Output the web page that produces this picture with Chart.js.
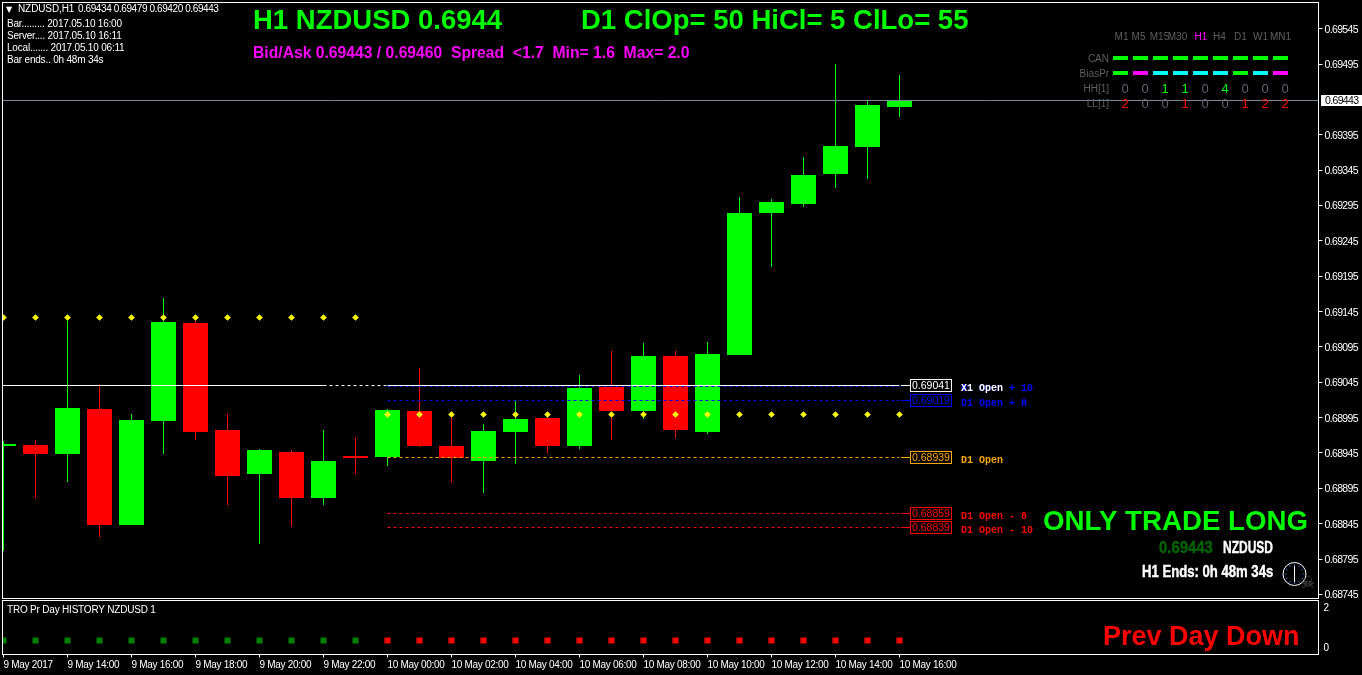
<!DOCTYPE html>
<html>
<head>
<meta charset="utf-8">
<title>NZDUSD H1</title>
<style>
html,body{margin:0;padding:0;background:#000;overflow:hidden;}
#wrap{position:relative;width:1362px;height:675px;background:#000;}
canvas{position:absolute;left:0;display:block;}
#main{top:0;}
#sub{top:600px;}
</style>
<script src="https://cdn.jsdelivr.net/npm/chart.js@4/dist/chart.umd.min.js"></script>
</head>
<body>
<div id="wrap">
<canvas id="main" width="1362" height="600"></canvas>
<canvas id="sub" width="1362" height="75"></canvas>
</div>
<script>
// hourly candles, 9 May 12:00 -> 10 May 16:00
var opens  = [0.68955,0.68957,0.68943,0.69007,0.68843,0.68990,0.69129,0.68977,0.68916,0.68947,0.68881,0.68941,0.68939,0.69005,0.68955,0.68933,0.68974,0.68994,0.68955,0.69038,0.69004,0.69082,0.68974,0.69083,0.69284,0.69297,0.69340,0.69378,0.69434];
var highs  = [0.68962,0.68964,0.69134,0.69042,0.69000,0.69164,0.69136,0.69000,0.68950,0.68949,0.68977,0.68967,0.69007,0.69065,0.69004,0.68986,0.69018,0.69003,0.69055,0.69089,0.69100,0.69089,0.69102,0.69307,0.69304,0.69364,0.69495,0.69443,0.69479];
var lows   = [0.68807,0.68881,0.68904,0.68826,0.68843,0.68943,0.68964,0.68872,0.68816,0.68841,0.68872,0.68916,0.68926,0.68953,0.68902,0.68888,0.68930,0.68945,0.68950,0.68964,0.68993,0.68966,0.68972,0.69083,0.69208,0.69293,0.69320,0.69333,0.69420];
var closes = [0.68958,0.68943,0.69008,0.68843,0.68991,0.69130,0.68974,0.68913,0.68949,0.68882,0.68933,0.68938,0.69006,0.68955,0.68938,0.68976,0.68993,0.68955,0.69037,0.69004,0.69082,0.68977,0.69085,0.69284,0.69300,0.69338,0.69379,0.69437,0.69443];

var yTicks = [0.69545,0.69495,0.69395,0.69345,0.69295,0.69245,0.69195,0.69145,0.69095,0.69045,0.68995,0.68945,0.68895,0.68845,0.68795,0.68745];
var xLabels = ["9 May 2017","9 May 14:00","9 May 16:00","9 May 18:00","9 May 20:00","9 May 22:00","10 May 00:00","10 May 02:00","10 May 04:00","10 May 06:00","10 May 08:00","10 May 10:00","10 May 12:00","10 May 14:00","10 May 16:00"];

var bidPrice = 0.69443;
var pivotY = [0.69136,0.69136,0.69136,0.69136,0.69136,0.69136,0.69136,0.69136,0.69136,0.69136,0.69136,0.69136,0.68999,0.68999,0.68999,0.68999,0.68999,0.68999,0.68999,0.68999,0.68999,0.68999,0.68999,0.68999,0.68999,0.68999,0.68999,0.68999,0.68999];
var prevDay = [0.35,0.35,0.35,0.35,0.35,0.35,0.35,0.35,0.35,0.35,0.35,0.35,0.35,0.35,0.35,0.35,0.35,0.35,0.35,0.35,0.35,0.35,0.35,0.35,0.35,0.35,0.35,0.35,0.35];
var prevDayUp = [1,1,1,1,1,1,1,1,1,1,1,1,0,0,0,0,0,0,0,0,0,0,0,0,0,0,0,0,0];

var levelPrices = [0.69041,0.69019,0.68939,0.68859,0.68839];
var levelNames = ["D1 Open + 10","D1 Open + 8","D1 Open","D1 Open - 8","D1 Open - 10"];
var levelColors = ["#0000ff","#0000ff","#ffa500","#ff0000","#ff0000"];

var frames = ["M1","M5","M15","M30","H1","H4","D1","W1","MN1"];
var canRow = ["#00ff00","#00ff00","#00ff00","#00ff00","#00ff00","#00ff00","#00ff00","#00ff00","#00ff00"];
var biasRow = ["#00ff00","#ff00ff","#00ffff","#00ffff","#00ffff","#00ffff","#00ff00","#00ffff","#ff00ff"];
var hhRow = [0,0,1,1,0,4,0,0,0];
var llRow = [2,0,0,1,0,0,1,2,2];

var FRAME = "#ffffff";
var sans = '"Liberation Sans",Arial,sans-serif';
var small = '10px ' + sans;
var arialB = 'bold 27.5px ' + sans;
var mono = 'bold 10px "Liberation Mono",monospace';
var fatB = 'bold 16px ' + sans;

// index -> pixel is 3.5 + 32*i, so the window edges sit at 2.5 and 1318.5
var xMin = -1/32, xMax = 1315/32;

function txt(ctx, s, x, y, font, color, align, spacing){
    ctx.font = font;
    ctx.fillStyle = color;
    ctx.textAlign = align || "left";
    ctx.textBaseline = "middle";
    ctx.letterSpacing = spacing || "0px";
    ctx.fillText(s, x, y);
    ctx.letterSpacing = "0px";
}

// same, squeezed sideways and a bit heavier (the original uses a condensed face)
function squeezed(ctx, s, x, y, font, color, sx){
    ctx.save();
    ctx.translate(x, y);
    ctx.scale(sx, 1);
    txt(ctx, s, 0, 0, font, color);
    ctx.strokeStyle = color;
    ctx.lineWidth = 0.4;
    ctx.strokeText(s, 0, 0);
    ctx.restore();
}

function seg(x0, x1, y, color, dash, order){
    return {
        type:"line",
        data:[{x:x0,y:y},{x:x1,y:y}],
        borderColor:color,
        borderWidth:1,
        borderDash:dash||[],
        pointRadius:0,
        order:order||2
    };
}

function tightScale(s){
    s.paddingLeft = s.paddingRight = s.paddingTop = s.paddingBottom = 0;
}

var frameBox = {
    id:"frameBox",
    afterDraw:function(chart){
        var a = chart.chartArea, ctx = chart.ctx;
        ctx.save();
        ctx.strokeStyle = FRAME;
        ctx.lineWidth = 1;
        ctx.strokeRect(a.left, a.top, a.right-a.left, a.bottom-a.top);
        ctx.restore();
    }
};

// MT4 draws on whole pixels, so snap what the scales computed
var pixelSnap = {
    id:"pixelSnap",
    beforeDatasetsDraw:function(chart){
        chart.getSortedVisibleDatasetMetas().forEach(function(meta){
            meta.data.forEach(function(el){
                if(meta.type=="bar"){
                    el.y = Math.round(el.y);
                    el.base = Math.round(el.base);
                }else{
                    el.y = Math.floor(el.y)+0.5;
                }
            });
        });
    }
};

var overlay = {
    id:"overlay",
    beforeDraw:function(chart){
        chart.ctx.letterSpacing = "-0.65px";
    },
    afterDraw:function(chart){
        var ctx = chart.ctx, y = chart.scales.y;
        ctx.save();

        // top left info
        txt(ctx,"\u25BC",6,9.5,'8px "DejaVu Sans"',"#fff");
        txt(ctx,"NZDUSD,H1",18,9.5,small,"#fff",null,"-0.1px");
        txt(ctx,"0.69434 0.69479 0.69420 0.69443",78,9.5,small,"#fff",null,"-0.4px");
        txt(ctx,"Bar......... 2017.05.10 16:00",7,24.5,small,"#fff",null,"-0.2px");
        txt(ctx,"Server.... 2017.05.10 16:11",7,36.5,small,"#fff",null,"-0.2px");
        txt(ctx,"Local....... 2017.05.10 06:11",7,48.5,small,"#fff",null,"-0.2px");
        txt(ctx,"Bar ends.. 0h 48m 34s",7,60.5,small,"#fff",null,"-0.2px");

        txt(ctx,"H1 NZDUSD 0.6944",253,21,arialB,"#00ff00");
        txt(ctx,"D1 ClOp= 50 HiCl= 5 ClLo= 55",581,21,arialB,"#00ff00");
        txt(ctx,"Bid/Ask 0.69443 / 0.69460  Spread  <1.7  Min= 1.6  Max= 2.0",253,53.5,'bold 15.7px '+sans,"#ff00ff");

        // timeframe table
        var cx = [1121.5,1138.5,1159.5,1177.5,1201,1219.5,1240.5,1260.5,1280.5];
        frames.forEach(function(f,i){
            txt(ctx,f,cx[i],37.5,small,f=="H1"?"#ff00ff":"#5f5f5f","center");
            ctx.fillStyle = canRow[i];
            ctx.fillRect(1113+20*i,56,15,4);
            ctx.fillStyle = biasRow[i];
            ctx.fillRect(1113+20*i,71,15,4);
            var c = 1125+20*i;
            txt(ctx,hhRow[i],c,89.5,'13px '+sans,hhRow[i]>0?"#00ff00":"#5f6470","center");
            txt(ctx,llRow[i],c,104.5,'13px '+sans,llRow[i]>0?"#ff0000":"#5f6470","center");
        });
        txt(ctx,"CAN",1109,59,small,"#5f5f5f","right");
        txt(ctx,"BiasPr",1109,74,small,"#5f5f5f","right");
        txt(ctx,"HH[1]",1109,89.5,small,"#5f5f5f","right");
        txt(ctx,"LL[1]",1109,104.5,small,"#5f5f5f","right");

        // last price tag on the axis
        var by = Math.floor(y.getPixelForValue(bidPrice));
        ctx.fillStyle = "#fff";
        ctx.fillRect(1321,by-5,41,11);
        txt(ctx,bidPrice.toFixed(5),1325,by+1,'10.5px '+sans,"#000",null,"-0.65px");

        // level boxes and names
        levelPrices.forEach(function(p,i){
            var py = Math.floor(y.getPixelForValue(p));
            var c = i==0 ? "#ffffff" : levelColors[i];
            ctx.fillStyle = "#000";
            ctx.fillRect(910,py-6,41,13);
            ctx.strokeStyle = c;
            ctx.lineWidth = 1;
            ctx.strokeRect(910.5,py-5.5,41,12);
            txt(ctx,p.toFixed(5),912,py+1,'10.5px '+sans,c);
            txt(ctx,levelNames[i],961,py+3.5,mono,levelColors[i]);
        });
        txt(ctx,"X1 Open",961,388.5,mono,"#ffffff");

        // bottom right
        txt(ctx,"ONLY TRADE LONG",1043,522,'bold 27.7px '+sans,"#00ff00");
        squeezed(ctx,"0.69443",1159,549,fatB,"#006400",0.93);
        squeezed(ctx,"NZDUSD",1223,549,fatB,"#ffffff",0.75);
        squeezed(ctx,"H1 Ends: 0h 48m 34s",1142,573,fatB,"#ffffff",0.82);

        // clock + skull
        ctx.strokeStyle = "#fff";
        ctx.lineWidth = 1;
        ctx.beginPath();
        ctx.arc(1294.5,574,11.5,0,Math.PI*2);
        ctx.stroke();
        ctx.beginPath();
        ctx.moveTo(1294.5,565);
        ctx.lineTo(1294.5,582);
        ctx.stroke();
        ctx.strokeStyle = "#3060c0";
        for(var h=0;h<12;h++){
            var a = h*Math.PI/6;
            ctx.beginPath();
            ctx.moveTo(1294.5+8*Math.cos(a),574+8*Math.sin(a));
            ctx.lineTo(1294.5+10*Math.cos(a),574+10*Math.sin(a));
            ctx.stroke();
        }
        txt(ctx,"\u2620",1308,584,'16px "DejaVu Sans"',"#555","center");
        ctx.restore();
    }
};

var subOverlay = {
    id:"subOverlay",
    beforeDraw:function(chart){
        chart.ctx.letterSpacing = "-0.3px";
    },
    afterDraw:function(chart){
        var ctx = chart.ctx;
        ctx.save();
        txt(ctx,"TRO Pr Day HISTORY NZDUSD 1",7,10,small,"#fff",null,"-0.2px");
        txt(ctx,"Prev Day Down",1103,37.5,'bold 27px '+sans,"#ff0000");
        ctx.restore();
    }
};

var xs = opens.map(function(v,i){return i;});

var mainSets = [
    {
        label:"wick",
        data:xs.map(function(i){return {x:i,y:[lows[i],highs[i]]};}),
        backgroundColor:xs.map(function(i){return closes[i]>=opens[i]?"#00ff00":"#ff0000";}),
        barThickness:1,
        inflateAmount:0,
        borderWidth:0,
        grouped:false,
        order:6
    },
    {
        label:"body",
        data:xs.map(function(i){return {x:i,y:[opens[i],closes[i]]};}),
        backgroundColor:xs.map(function(i){return closes[i]>=opens[i]?"#00ff00":"#ff0000";}),
        barThickness:25,
        inflateAmount:0,
        borderWidth:0,
        grouped:false,
        order:5
    },
    seg(xMin,xMax,bidPrice,"#778899"),
    seg(xMin,10,levelPrices[0],"#ffffff",null,3),
    seg(10,12,levelPrices[0],"#ffffff",[3,3],3),
    seg(12,28,levelPrices[0],"#ffffff",null,3),
    seg(12,28,levelPrices[0]-0.000015,"#0000ff",[3,3],2)
];
levelPrices.forEach(function(p,i){
    if(i>0) mainSets.push(seg(12,28,p,levelColors[i],[3,3]));
    mainSets.push(seg(28.05,28.33,p,i==0?"#ffffff":levelColors[i]));
});
mainSets.push({
    type:"line",
    label:"pivot",
    data:xs.map(function(i){return {x:i,y:pivotY[i]};}),
    showLine:false,
    pointStyle:"rectRot",
    pointRadius:3.3,
    pointBackgroundColor:"#ffff00",
    pointBorderWidth:0,
    order:1
});

new Chart(document.getElementById("main"), {
    type:"bar",
    data:{datasets:mainSets},
    plugins:[pixelSnap,frameBox,overlay],
    options:{
        responsive:false,
        animation:false,
        events:[],
        layout:{autoPadding:false,padding:{left:2.5,top:2.5,right:0,bottom:1.5}},
        plugins:{legend:{display:false},title:{display:false},tooltip:{enabled:false}},
        scales:{
            x:{type:"linear",display:false,offset:false,min:xMin,max:xMax},
            y:{
                type:"linear",
                position:"right",
                min:0.687392,
                max:0.695822,
                afterBuildTicks:function(s){ s.ticks = yTicks.map(function(v){return {value:v};}); },
                afterFit:function(s){ s.width = 43.5; tightScale(s); },
                border:{display:false},
                grid:{drawOnChartArea:false,color:FRAME,tickLength:4,tickWidth:1},
                ticks:{
                    color:"#fff",
                    padding:2,
                    autoSkip:false,
                    // empty first line + tiny line height: text sits 1px under the tick like MT4
                    font:{family:sans,size:10.5,lineHeight:0.2},
                    callback:function(v){ return ["",v.toFixed(5)]; }
                }
            }
        }
    }
});

new Chart(document.getElementById("sub"), {
    type:"scatter",
    data:{datasets:[{
        label:"prev day",
        data:xs.map(function(i){return {x:i,y:prevDay[i]};}),
        pointStyle:"rect",
        pointRadius:4.25,
        pointBorderWidth:0,
        pointBackgroundColor:xs.map(function(i){return prevDayUp[i]?"#008000":"#ff0000";})
    }]},
    plugins:[frameBox,subOverlay],
    options:{
        responsive:false,
        animation:false,
        events:[],
        layout:{autoPadding:false,padding:{left:2.5,top:0.5,right:0,bottom:0}},
        plugins:{legend:{display:false},title:{display:false},tooltip:{enabled:false}},
        scales:{
            x:{
                type:"linear",
                min:xMin,
                max:xMax,
                afterBuildTicks:function(s){ s.ticks = xLabels.map(function(l,k){return {value:k*2};}); },
                afterFit:function(s){ s.height = 20.5; tightScale(s); },
                border:{display:false},
                grid:{drawOnChartArea:false,color:FRAME,tickLength:3},
                ticks:{
                    color:"#fff",
                    align:"start",
                    padding:2,
                    autoSkip:false,
                    maxRotation:0,
                    font:{family:sans,size:10},
                    callback:function(v){ return xLabels[v/2]; }
                }
            },
            y:{
                type:"linear",
                position:"right",
                min:-0.35,
                max:2.35,
                afterBuildTicks:function(s){ s.ticks = [{value:0},{value:2}]; },
                afterFit:function(s){ s.width = 43.5; tightScale(s); },
                border:{display:false},
                grid:{display:false,drawTicks:false},
                ticks:{
                    color:"#fff",
                    padding:5,
                    font:{family:sans,size:10,lineHeight:0.2},
                    callback:function(v){ return ["",String(v)]; }
                }
            }
        }
    }
});
</script>
</body>
</html>
